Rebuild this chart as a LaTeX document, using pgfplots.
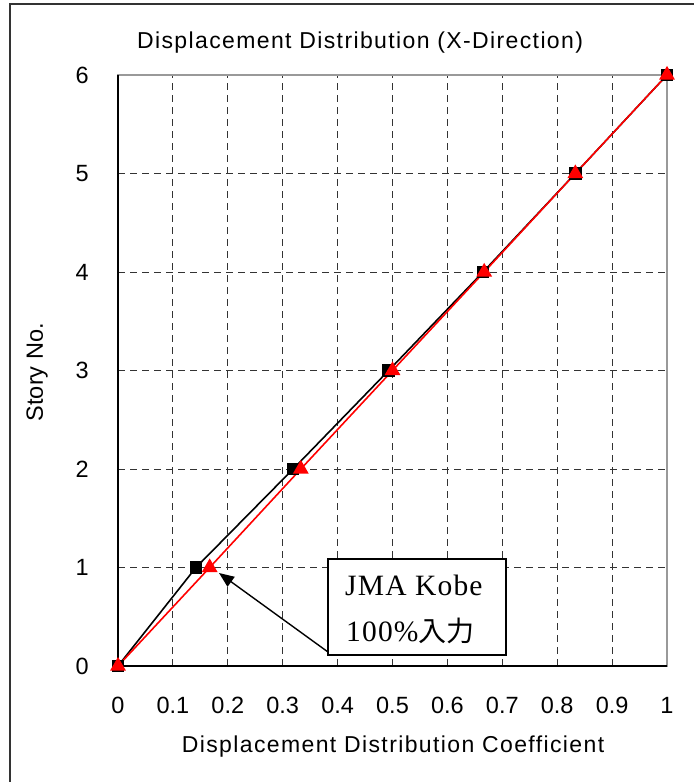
\documentclass[border=0pt]{standalone}
\usepackage{fontspec}
\usepackage{pgfplots}
\pgfplotsset{compat=1.18}
\usetikzlibrary{arrows.meta}
\setmainfont{Liberation Sans}
\newfontfamily\spaced[LetterSpace=6]{Liberation Sans}
\newfontfamily\serifjp[LetterSpace=4]{Liberation Serif}
\newfontfamily\cjk{Noto Sans CJK JP}
\definecolor{gridgray}{HTML}{333333}
\definecolor{framegray}{HTML}{999999}
\begin{document}
\begin{tikzpicture}[x=1bp,y=1bp]
\useasboundingbox (0,0) rectangle (694,782);
\draw[line width=1.2bp, black!80] (10,0) -- (10,778) -- (694,778);
\begin{axis}[
  at={(118bp,116bp)}, anchor=south west,
  width=549bp, height=591bp, scale only axis,
  xmin=0, xmax=1, ymin=0, ymax=6,
  xtick={0,0.1,0.2,0.3,0.4,0.5,0.6,0.7,0.8,0.9,1},
  xticklabels={0,0.1,0.2,0.3,0.4,0.5,0.6,0.7,0.8,0.9,1},
  ytick={0,1,2,3,4,5,6},
  yticklabels={0,1,2,3,4,5,6},
  major tick length=0pt,
  grid=major,
  major grid style={gridgray, line width=0.9bp, dash pattern=on 7bp off 5bp},
  axis line style={framegray, line width=1.4bp},
  tick label style={font=\fontsize{23.5bp}{27bp}\selectfont},
  xticklabel style={anchor=base, yshift=-47bp, inner sep=0pt},
  yticklabel style={anchor=east, xshift=-29bp, inner sep=0pt},
  title={Displacement Distribution (X-Direction)},
  title style={at={(axis description cs:0.441,1)}, anchor=base, yshift=21bp, inner sep=0pt, font=\spaced\fontsize{23bp}{27bp}\selectfont},
  xlabel={Displacement Distribution Coefficient},
  xlabel style={at={(axis description cs:0.501,0)}, anchor=base, yshift=-86bp, inner sep=0pt, font=\spaced\fontsize{23bp}{27bp}\selectfont},
  ylabel={Story No.},
  ylabel style={at={(axis description cs:-0.1475,0.497)}, anchor=center, rotate=0, inner sep=0pt, font=\fontsize{23.5bp}{27bp}\selectfont},
  clip=false,
]
\addplot[black, line width=1.6bp, mark=square*, mark size=5.5bp, mark options={solid, fill=black}] coordinates {
  (0,0) (0.142,1) (0.319,2) (0.493,3) (0.665,4) (0.833,5) (1,6)
};
\addplot[red, line width=1.6bp, mark=triangle*, mark size=7.5bp, mark options={solid, fill=red}] coordinates {
  (0,0) (0.167,1) (0.333,2) (0.5,3) (0.667,4) (0.833,5) (1,6)
};
\draw[black, line width=1.6bp] (rel axis cs:0,1) -- (rel axis cs:0,0) -- (rel axis cs:1,0);
\end{axis}
\draw[line width=1.4bp, -{Triangle[length=15bp,width=12bp]}] (328,130) -- (219,209);
\draw[line width=1.4bp, fill=white] (328,127) rectangle (506,223);
\node[anchor=base west, inner sep=0pt, font=\serifjp\fontsize{29.5bp}{33bp}\selectfont] at (345,186) {JMA Kobe};
\node[anchor=base west, inner sep=0pt, font=\serifjp\fontsize{29.5bp}{33bp}\selectfont] at (346,140) {100\%{\cjk\fontsize{28bp}{32bp}\selectfont 入力}};
\end{tikzpicture}
\end{document}
